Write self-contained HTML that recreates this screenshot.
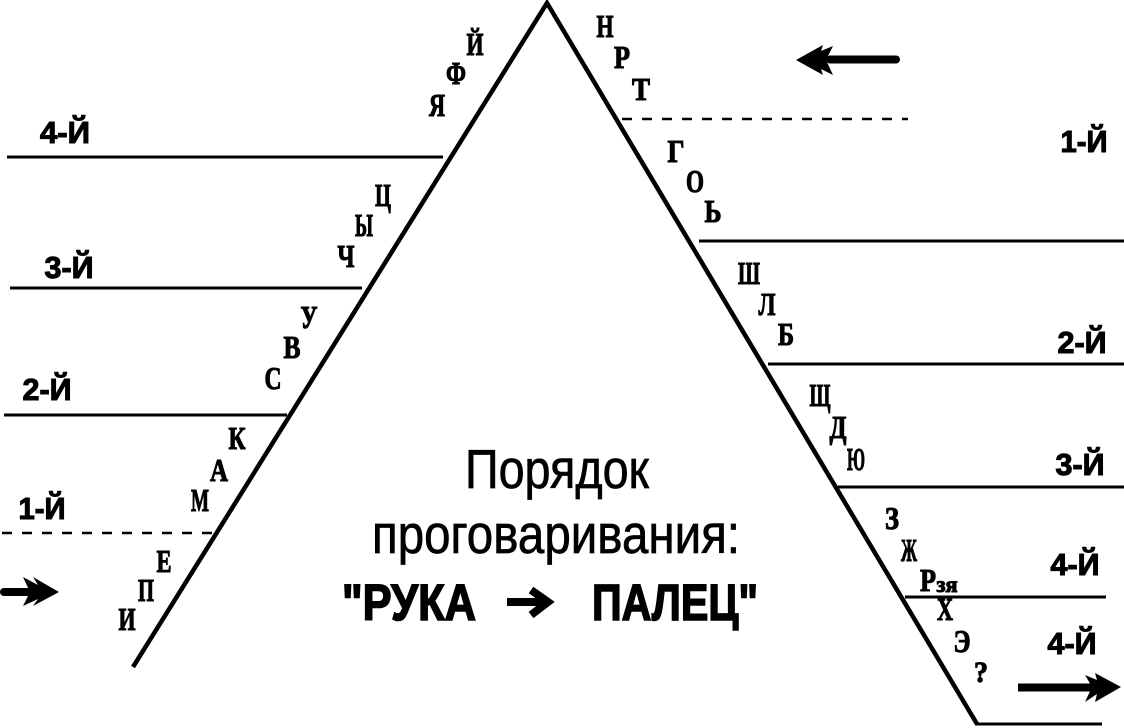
<!DOCTYPE html>
<html><head><meta charset="utf-8"><style>
html,body{margin:0;padding:0;background:#fff}
svg{display:block}
text{text-anchor:middle}
.s{font-family:"Liberation Serif",serif;font-weight:bold;font-size:32px;stroke:#000;stroke-width:1.1px}
.b{font-family:"Liberation Sans",sans-serif;font-weight:bold;font-size:31px;stroke:#000;stroke-width:1.1px}
.n{font-family:"Liberation Sans",sans-serif;font-size:55px;stroke:#000;stroke-width:.7px}
.h{font-family:"Liberation Sans",sans-serif;font-weight:bold;font-size:51px;stroke:#000;stroke-width:1.6px}
</style></head><body>
<svg width="1124" height="728" viewBox="0 0 1124 728" xmlns="http://www.w3.org/2000/svg">
<g stroke="#000" fill="none">
<path d="M133 667L547 3L977 724" stroke-width="4.5"/>
<path d="M975 724H1102M7 157H443M10 288H362M4 415H287M699 241H1124M768 364H1124M838 487H1124M905 597H1106" stroke-width="3"/>
<path d="M2 533H216M622 119H908" stroke-width="2.5" stroke-dasharray="10 10"/>
<path d="M830 59.5H896" stroke-width="8" stroke-linecap="round"/>
<path d="M4 592H36" stroke-width="8" stroke-linecap="round"/>
<path d="M1018 687.5H1095" stroke-width="8"/>
<path d="M507 602H546" stroke-width="8"/>
<path d="M531 590L548 602L531 615" stroke-width="8"/>
</g>
<polygon points="796,60 823,45 821,51 833,46 826,60 833,75 821,69 823,75"/>
<polygon points="1121,687 1095,673 1097,680 1085,675 1092,687 1085,702 1097,694 1095,702"/>
<polygon points="59,592 33,577 38,585 23,577 30,592 23,606 38,599 33,606"/>
<g fill="#000">
<text class="b" x="65" y="143" textLength="50" lengthAdjust="spacingAndGlyphs">4-Й</text>
<text class="b" x="69" y="278" textLength="49" lengthAdjust="spacingAndGlyphs">3-Й</text>
<text class="b" x="47" y="400" textLength="49" lengthAdjust="spacingAndGlyphs">2-Й</text>
<text class="b" x="42" y="519" textLength="47" lengthAdjust="spacingAndGlyphs">1-Й</text>
<text class="b" x="1084" y="152" textLength="47" lengthAdjust="spacingAndGlyphs">1-Й</text>
<text class="b" x="1082" y="353" textLength="49" lengthAdjust="spacingAndGlyphs">2-Й</text>
<text class="b" x="1080" y="475" textLength="49" lengthAdjust="spacingAndGlyphs">3-Й</text>
<text class="b" x="1075" y="575" textLength="49" lengthAdjust="spacingAndGlyphs">4-Й</text>
<text class="b" x="1072" y="654" textLength="49" lengthAdjust="spacingAndGlyphs">4-Й</text>
<text class="n" x="557" y="488" textLength="184" lengthAdjust="spacingAndGlyphs">Порядок</text>
<text class="n" x="556" y="553" textLength="368" lengthAdjust="spacingAndGlyphs">проговаривания:</text>
<text class="h" x="409" y="620" textLength="134" lengthAdjust="spacingAndGlyphs">"РУКА</text>
<text class="h" x="675" y="620" textLength="166" lengthAdjust="spacingAndGlyphs">ПАЛЕЦ"</text>
</g>
<g fill="#000">
<text class="s" x="127" y="630" textLength="17" lengthAdjust="spacingAndGlyphs">И</text>
<text class="s" x="146" y="601" textLength="16" lengthAdjust="spacingAndGlyphs">П</text>
<text class="s" x="164" y="572" textLength="15" lengthAdjust="spacingAndGlyphs">Е</text>
<text class="s" x="200" y="511" textLength="18" lengthAdjust="spacingAndGlyphs">М</text>
<text class="s" x="219" y="481" textLength="18" lengthAdjust="spacingAndGlyphs">А</text>
<text class="s" x="237" y="449" textLength="17" lengthAdjust="spacingAndGlyphs">К</text>
<text class="s" x="273" y="389" textLength="17" lengthAdjust="spacingAndGlyphs">С</text>
<text class="s" x="292" y="358" textLength="17" lengthAdjust="spacingAndGlyphs">В</text>
<text class="s" x="309" y="328" textLength="17" lengthAdjust="spacingAndGlyphs">У</text>
<text class="s" x="346" y="267" textLength="17" lengthAdjust="spacingAndGlyphs">Ч</text>
<text class="s" x="364" y="236" textLength="18" lengthAdjust="spacingAndGlyphs">Ы</text>
<text class="s" x="383" y="206" textLength="16" lengthAdjust="spacingAndGlyphs">Ц</text>
<text class="s" x="437" y="116" textLength="16" lengthAdjust="spacingAndGlyphs">Я</text>
<text class="s" x="456" y="84" textLength="20" lengthAdjust="spacingAndGlyphs">Ф</text>
<text class="s" x="475" y="55" textLength="17" lengthAdjust="spacingAndGlyphs">Й</text>
<text class="s" x="605" y="37" textLength="17" lengthAdjust="spacingAndGlyphs">Н</text>
<text class="s" x="622" y="68" textLength="16" lengthAdjust="spacingAndGlyphs">Р</text>
<text class="s" x="641" y="100" textLength="18" lengthAdjust="spacingAndGlyphs">Т</text>
<text class="s" x="676" y="162" textLength="17" lengthAdjust="spacingAndGlyphs">Г</text>
<text class="s" x="695" y="192" textLength="18" lengthAdjust="spacingAndGlyphs">О</text>
<text class="s" x="713" y="222" textLength="17" lengthAdjust="spacingAndGlyphs">Ь</text>
<text class="s" x="749" y="284" textLength="22" lengthAdjust="spacingAndGlyphs">Ш</text>
<text class="s" x="767" y="315" textLength="17" lengthAdjust="spacingAndGlyphs">Л</text>
<text class="s" x="786" y="345" textLength="16" lengthAdjust="spacingAndGlyphs">Б</text>
<text class="s" x="820" y="406" textLength="21" lengthAdjust="spacingAndGlyphs">Щ</text>
<text class="s" x="838" y="438" textLength="17" lengthAdjust="spacingAndGlyphs">Д</text>
<text class="s" x="856" y="470" textLength="18" lengthAdjust="spacingAndGlyphs">Ю</text>
<text class="s" x="892" y="529" textLength="14" lengthAdjust="spacingAndGlyphs">З</text>
<text class="s" x="909" y="561" textLength="16" lengthAdjust="spacingAndGlyphs">Ж</text>
<text class="s" x="928" y="591" textLength="16" lengthAdjust="spacingAndGlyphs">Р</text>
<text class="s" x="947" y="592" style="font-size:23px" textLength="21" lengthAdjust="spacingAndGlyphs">зя</text>
<text class="s" x="945" y="620" textLength="16" lengthAdjust="spacingAndGlyphs">Х</text>
<text class="s" x="962" y="652" textLength="17" lengthAdjust="spacingAndGlyphs">Э</text>
<text class="s" x="981" y="682" style="font-size:30px" textLength="14" lengthAdjust="spacingAndGlyphs">?</text>
</g>
</svg>
</body></html>
